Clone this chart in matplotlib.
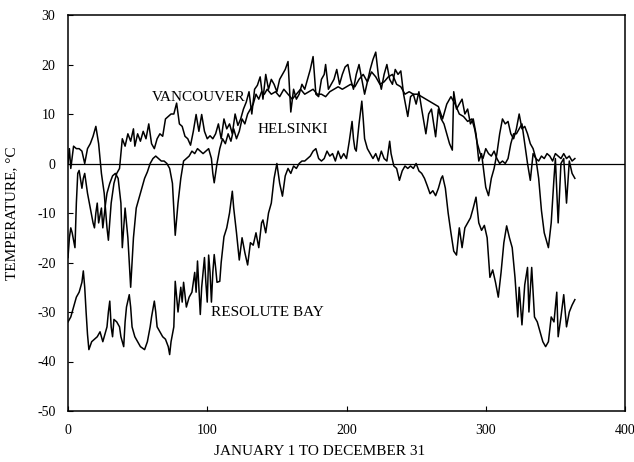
import matplotlib
matplotlib.use("Agg")
import matplotlib.pyplot as plt

# ---- data ----
van_days = [0,1,2,4,6,8,10,12,14,16,18,20,22,24,26,28,29,31,33,35,37,39,41,43,45,47,48,50,52,54,56,58,60,62,64,66,68,70,72,74,76,78,80,82,84,86,88,90,92,94,96,98,100,102,104,106,108,110,112,114,116,118,120,122,124,126,128,130,132,134,136,138,140,142,144,146,148,150,152,154,156,158,160,162,164,166,168,170,172,174,176,178,180,182,184,185,187,189,191,193,195,197,199,201,203,205,207,209,211,213,215,217,219,221,223,225,227,229,231,233,235,237,239,241,244,246,248,250,252,254,257,259,261,264,266,268,270,272,274,276,277,279,281,283,285,287,289,291,293,295,297,300,302,304,306,308,310,312,314,316,318,320,322,324,326,328,330,332,334,336,338,340,342,344,346,348,350,352,354,356,358,360,362,364]
van_vals = [0,3,-1,3.5,3,3,2.5,0,3,4,5.5,7.5,4,-2,-6,-13,-15.5,-8,-4,-2,-1,5,3.5,6,4.5,7,3.5,6,4.5,6.5,5,8,4,3,5,6,5.5,9,9.5,10,10,12.2,8,7.5,5.5,5,3.7,6.5,9.9,6.5,9.9,6.5,5,5.6,5,6,8,5,9,7,8,6,10,7.7,9,11,12.4,14.5,10,15,15.8,17.5,13,18,15,17,16,14.5,17,18,19,20.6,10.4,15,13,14,16,15,17,19,21.6,14,13.5,17,18,20,15,16,17,19,16,18,19.5,20,17,15,18,20,17,14,16.5,19,21,22.5,17.5,15,18,20,17,16,19,18,18.7,14,9.5,13.5,14,12,14.5,11,6,10,11,5.4,11,9,8,6,4,2.7,14.5,11,12,13,10,11,8,9,6,0.5,2,-4.8,-6.5,-3,-1,2,6,9,8,8.5,6,5,7,10,7,7.5,6,4,3,1,0.5,1.5,1,2,1.5,0.5,2,1.5,1,2,1,1.5,0.5,1]

hel_days = [0,1,2,3,5,6,7,8,10,11,12,14,16,18,19,20,21,22,24,25,27,28,30,32,34,36,38,39,41,43,45,47,49,51,53,55,57,59,61,63,65,67,69,71,73,75,77,79,81,83,85,87,89,91,93,95,97,99,101,103,104,105,107,109,111,113,115,117,119,121,123,125,127,129,131,133,135,137,139,141,143,146,149,152,155,158,161,164,167,170,173,176,179,182,185,188,191,194,197,200,203,206,209,212,215,218,221,224,227,230,233,236,239,242,245,248,251,254,257,260,263,266,269,272,275,278,281,284,287,290,292,294,296,298,300,302,304,306,308,310,312,314,316,318,320,322,324,326,328,330,332,334,336,338,340,342,345,347,349,350,352,354,356,358,360,362,364]
hel_vals = [-19,-15,-13,-14,-17,-8,-2,-1.4,-5,-3,-2,-6,-9,-12,-13,-10,-8,-12,-9,-13,-8,-6,-4,-2.5,-2,-3,-8,-17,-9,-15,-25,-15,-9,-7,-5,-3,-1.7,0,1,1.5,1,0.5,0.5,0,-1,-4,-14.5,-8,-3,0.5,1,1.5,2.5,2,3,2.5,2,2.5,3,1,-2,-3.9,0,3,5,4,6,4.5,7,5,6.5,9,8,10,11,12,14,13,14.5,14,15,14,14.5,13.5,15,14,13,14,15,14,14.5,15,14,14,13.5,14.5,15,15.5,15,15.5,16,15.5,17,18,16.5,18.5,17.5,16,16.5,17.5,18,16,15.5,14,14.5,14,14,13.5,13,12.5,12,11.5,9,12,13.5,12,10,9.5,8.5,9,7,4,2,1,3,2,1.5,2.5,1,0,0.5,0,1,4,6,6,7,8,4,0,-3.4,2,1,-3,-9.5,-14,-17,-12,-3,1,-12,0,1,-8,0.5,-2,-3]

res_days = [0,2,4,6,8,10,11,12,13,14,15,17,19,21,23,25,27,28,29,30,31,32,33,35,37,38,40,41,42,44,45,46,48,50,52,55,57,59,60,62,63,64,66,68,70,72,73,74,76,77,78,79,81,82,83,85,87,89,91,92,93,94,95,96,97,98,99,100,101,102,103,104,105,106,107,109,110,112,114,116,118,119,121,123,125,127,129,131,133,135,137,139,140,142,144,146,148,150,152,154,156,158,160,162,164,166,168,170,172,174,176,178,180,182,184,186,188,190,192,194,196,198,200,202,204,205,206,207,209,211,212,213,215,217,219,221,223,225,227,229,231,232,234,236,238,240,242,244,246,248,250,252,254,256,258,260,262,264,266,268,269,271,273,275,277,279,281,283,285,287,289,291,293,295,297,299,301,303,305,307,309,311,313,315,317,319,321,323,324,326,328,330,331,333,335,337,339,341,343,345,347,349,351,352,354,356,358,360,362,364]
res_vals = [-32,-31,-29,-27,-26,-24,-21.7,-25,-30,-34.5,-37.6,-36,-35.5,-35,-34,-36,-34,-33,-30,-27.8,-33,-35,-31.5,-32,-33,-35,-37,-32,-29,-26.5,-29,-33,-35,-36,-37,-37.6,-36,-33,-31,-27.8,-30,-33,-34,-35,-35.5,-37,-38.6,-36,-33,-23.8,-27,-30,-25,-28,-24,-29,-27,-26,-22,-26,-19.7,-25,-30.5,-25,-22,-19,-24,-28,-18.5,-22,-28,-22,-18.4,-21,-24,-23.8,-20,-14.8,-13,-10,-5.6,-9,-14,-19.5,-15,-18,-20.5,-16,-16.5,-14,-17,-12,-11.4,-14,-10,-8,-3,0,-4,-6.6,-2.5,-1,-2,-0.5,-1,0,0.5,0.5,1,1.5,2.5,3,1,0.5,1,2.5,1.5,2,0.5,2.5,1,2,1,4.5,8.5,5,3,2.5,8,12.6,9,5,3,2,1,2,0.5,2.5,1,0.5,4.5,2,-0.5,-1,-3.4,-1.5,-0.5,-1,-0.5,-1,0,-1.5,-2,-3,-4.5,-6.1,-5.5,-6.5,-5,-3,-2.5,-5,-10,-14,-17.7,-18.5,-13,-17,-13,-12,-11,-9,-6.8,-12,-13.5,-12.5,-15,-23,-21.5,-24,-27,-22,-16,-12.6,-15,-17,-23,-31,-25,-32.6,-24.5,-21,-30,-21,-31,-32,-34,-36,-37,-36,-31,-32,-26,-35,-31,-26.5,-33,-30,-28.6,-27.5]

x_ticks = [0, 100, 200, 300, 400]
y_ticks = [-50, -40, -30, -20, -10, 0, 10, 20, 30]

# ---- figure ----
plt.rcParams['font.family'] = ['Liberation Serif', 'DejaVu Serif']
fig = plt.figure(figsize=(6.34, 4.62), dpi=100)
ax = fig.add_axes([68/634, 1 - 411/462, (625-68)/634, (411-15)/462])

for d, v in [(van_days, van_vals), (hel_days, hel_vals), (res_days, res_vals)]:
    ax.plot(d, v, color='black', lw=1.1)

ax.axhline(0, color='black', lw=0.9)

ax.set_xlim(0, 400)
ax.set_ylim(-50, 30)
ax.set_xticks(x_ticks)
ax.set_yticks(y_ticks)
ax.set_xticklabels([str(t) for t in x_ticks])
ax.set_yticklabels([str(t) for t in y_ticks])
ax.tick_params(direction='in', length=3.5, width=0.8, labelsize=10, pad=9)
for s in ax.spines.values():
    s.set_linewidth(1.1)

ax.text(60, 12.6, 'VANCOUVER', fontsize=11)
ax.text(136, 6.2, 'HELSINKI', fontsize=11)
ax.text(103, -30.8, 'RESOLUTE BAY', fontsize=11)

ax.set_xlabel('JANUARY 1 TO DECEMBER 31', fontsize=11)
ax.xaxis.set_label_coords(0.452, -0.085)
ax.set_ylabel('TEMPERATURE, °C', fontsize=11)
ax.yaxis.set_label_coords(-0.09, 0.5)

fig.savefig('out.png', dpi=100)
